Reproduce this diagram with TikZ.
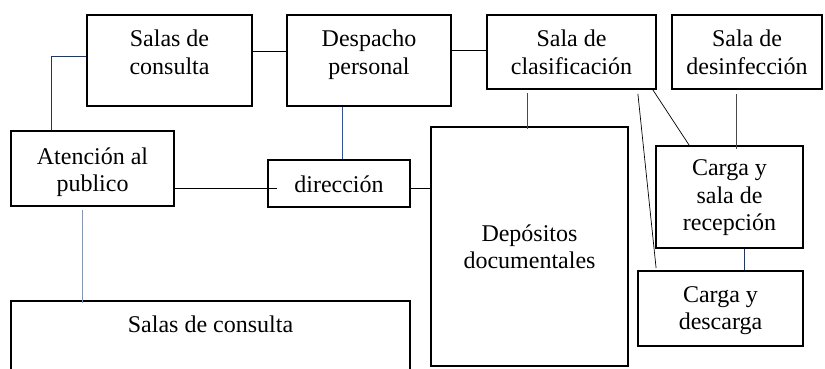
\documentclass[tikz,border=0pt]{standalone}
\usepackage{fontspec}
\setmainfont{Liberation Serif}
\begin{document}
\begin{tikzpicture}[x=1pt,y=-1pt,
  box/.style={draw=black,line width=1.8pt,inner sep=0pt,rectangle},
  txt/.style={inner sep=0pt,align=center,anchor=north,font=\fontsize{24}{27.5}\selectfont},
  con/.style={line width=0.9pt,draw=black},
  navy/.style={con,draw=navycol},
  bluec/.style={con,draw=bluecol},
  grayc/.style={con,draw=graycol},
  greyb/.style={con,draw=graybcol}]
\definecolor{navycol}{HTML}{1F3864}
\definecolor{bluecol}{HTML}{2F5597}
\definecolor{graycol}{HTML}{4A4A4A}
\definecolor{graybcol}{HTML}{8497B0}
\clip (0,0) rectangle (825,368);
\fill[white] (0,0) rectangle (825,368);
% boxes: (left,top) rectangle sizes
\node[box,minimum width=165pt,minimum height=91pt] (sc1) at (169.5,60.5) {};
\node[box,minimum width=164pt,minimum height=91pt] (dp) at (369,60.5) {};
\node[box,minimum width=169pt,minimum height=74pt] (cl) at (571.5,52) {};
\node[box,minimum width=150pt,minimum height=74pt] (de) at (747,52) {};
\node[box,minimum width=163pt,minimum height=75pt] (at) at (92.5,168.5) {};
\node[box,minimum width=142pt,minimum height=47pt] (di) at (339,183.5) {};
\node[box,minimum width=197pt,minimum height=239pt] (dep) at (529.5,246.5) {};
\node[box,minimum width=147pt,minimum height=102pt] (cr) at (729.5,197) {};
\node[box,minimum width=165pt,minimum height=75pt] (cd) at (720.5,308.5) {};
\node[box,minimum width=399pt,minimum height=100pt] (sc2) at (210.5,351) {};
% texts (first baseline about 32pt below box top)
\node[txt] (tsc1) at ([yshift=-13pt]sc1.north) {\strut Salas de\\consulta};
\node[txt] (tdp) at ([yshift=-13pt]dp.north) {\strut Despacho\\personal};
\node[txt] (tcl) at ([yshift=-13pt]cl.north) {\strut Sala de\\clasificación};
\node[txt] (tde) at ([yshift=-13pt]de.north) {\strut Sala de\\desinfección};
\node[txt] (tat) at ([yshift=-14.5pt]at.north) {\strut Atención al\\publico};
\node[txt] (tdi) at ([yshift=-13.5pt]di.north) {\strut dirección};
\node[txt] (tdep) at ([yshift=-95.5pt]dep.north) {\strut Depósitos\\documentales};
\node[txt] (tcr) at ([yshift=-11pt]cr.north) {\strut Carga y\\sala de\\recepción};
\node[txt] (tcd) at ([yshift=-12.5pt]cd.north) {\strut Carga y\\descarga};
\node[txt] (tsc2) at ([yshift=-12.5pt]sc2.north) {\strut Salas de consulta};
% connectors
\draw[navy] ([xshift=41pt]at.north west) |- ([yshift=-42pt]sc1.north west);
\draw[con] ([yshift=-37pt]sc1.north east) -- ([yshift=-37pt]dp.north west);
\draw[con] ([yshift=-36pt]dp.north east) -- ([yshift=-36pt]cl.north west);
\draw[bluec] ([xshift=56pt]dp.south west) -- ([xshift=56pt]dp.south west |- di.north);
\draw[con] ([yshift=-58pt]at.north east) -- ([xshift=10pt,yshift=-29pt]di.north west);
\draw[con] ([yshift=-29pt]di.north east) -- ([yshift=-62pt]dep.north west);
\draw[grayc] ([xshift=41pt,yshift=-3pt]cl.south west) -- ([xshift=41pt,yshift=-3pt]cl.south west |- dep.north);
\draw[con,line width=0.7pt] ([xshift=-4pt]cl.south east) -- ([xshift=34pt]cr.north west);
\draw[con,line width=0.7pt] ([xshift=-19pt,yshift=-4pt]cl.south east) -- ([xshift=19pt,yshift=2pt]cd.north west);
\draw[grayc] ([xshift=-11pt,yshift=-4pt]de.south) -- ([xshift=-11pt,yshift=-4pt]de.south |- cr.north);
\draw[navy] ([xshift=14.5pt]cr.south) -- ([xshift=14.5pt]cr.south |- cd.north);
\draw[greyb] ([xshift=-10.5pt,yshift=-3pt]at.south) -- ([xshift=-10.5pt,yshift=-3pt]at.south |- sc2.north);
\end{tikzpicture}
\end{document}
